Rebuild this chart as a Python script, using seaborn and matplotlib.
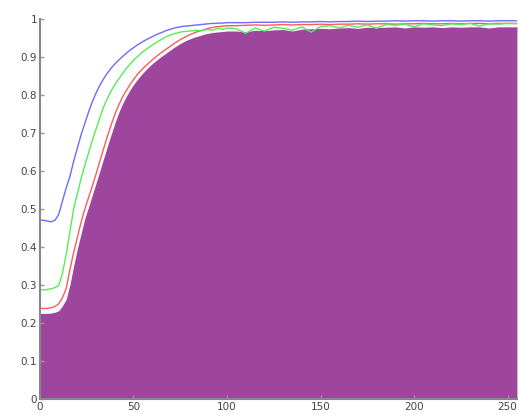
import matplotlib
matplotlib.use("Agg")
import matplotlib.pyplot as plt
import seaborn as sns
import pandas as pd

# x positions (0..100 step 2, then 105..255 step 5)
x_vals = [0, 2, 4, 6, 8, 10, 12, 14, 16, 18, 20, 22, 24, 26, 28, 30, 32, 34, 36, 38,
          40, 42, 44, 46, 48, 50, 52, 54, 56, 58, 60, 62, 64, 66, 68, 70, 72, 74, 76, 78,
          80, 82, 84, 86, 88, 90, 92, 94, 96, 98, 100,
          105, 110, 115, 120, 125, 130, 135, 140, 145, 150, 155, 160, 165, 170, 175, 180,
          185, 190, 195, 200, 205, 210, 215, 220, 225, 230, 235, 240, 245, 250, 255]

blue_vals = [0.470, 0.470, 0.468, 0.466, 0.470, 0.485, 0.520, 0.555, 0.585, 0.625,
             0.660, 0.695, 0.725, 0.755, 0.782, 0.805, 0.825, 0.842, 0.857, 0.870,
             0.881, 0.891, 0.900, 0.909, 0.917, 0.924, 0.931, 0.937, 0.943, 0.948,
             0.953, 0.958, 0.962, 0.966, 0.970, 0.973, 0.976, 0.978, 0.980, 0.981,
             0.982, 0.983, 0.984, 0.985, 0.986, 0.987, 0.988, 0.988, 0.989, 0.989, 0.990,
             0.990, 0.990, 0.991, 0.991, 0.991, 0.992, 0.991, 0.992, 0.992, 0.993,
             0.992, 0.993, 0.993, 0.994, 0.993, 0.994, 0.994, 0.995, 0.994, 0.995,
             0.995, 0.994, 0.995, 0.995, 0.994, 0.995, 0.995, 0.994, 0.995, 0.995, 0.995]

green_vals = [0.287, 0.287, 0.288, 0.290, 0.293, 0.298, 0.330, 0.380, 0.440, 0.500,
              0.540, 0.580, 0.615, 0.648, 0.680, 0.710, 0.740, 0.768, 0.790, 0.810,
              0.826, 0.841, 0.855, 0.868, 0.880, 0.891, 0.900, 0.909, 0.917, 0.924,
              0.931, 0.937, 0.943, 0.949, 0.954, 0.958, 0.961, 0.964, 0.966, 0.967,
              0.968, 0.969, 0.970, 0.968, 0.971, 0.972, 0.970, 0.973, 0.975, 0.972, 0.976,
              0.974, 0.962, 0.976, 0.968, 0.978, 0.975, 0.970, 0.979, 0.965, 0.980,
              0.982, 0.976, 0.983, 0.978, 0.984, 0.975, 0.985, 0.983, 0.986, 0.979,
              0.987, 0.984, 0.982, 0.987, 0.985, 0.988, 0.981, 0.987, 0.986, 0.988, 0.987]

red_vals = [0.238, 0.238, 0.238, 0.240, 0.243, 0.250, 0.266, 0.290, 0.340, 0.385,
            0.425, 0.465, 0.500, 0.530, 0.560, 0.592, 0.625, 0.658, 0.690, 0.720,
            0.748, 0.772, 0.793, 0.810, 0.826, 0.840, 0.853, 0.864, 0.874, 0.883,
            0.892, 0.900, 0.908, 0.915, 0.922, 0.929, 0.936, 0.942, 0.948, 0.953,
            0.958, 0.962, 0.966, 0.969, 0.972, 0.975, 0.977, 0.979, 0.980, 0.981, 0.982,
            0.982, 0.983, 0.984, 0.983, 0.984, 0.985, 0.984, 0.985, 0.985, 0.986,
            0.985, 0.986, 0.986, 0.987, 0.986, 0.987, 0.987, 0.986, 0.987, 0.987,
            0.988, 0.987, 0.987, 0.988, 0.987, 0.988, 0.988, 0.987, 0.988, 0.988, 0.988]

bar_vals = [0.225, 0.225, 0.225, 0.226, 0.228, 0.232, 0.245, 0.262, 0.300, 0.350,
            0.395, 0.435, 0.475, 0.505, 0.537, 0.568, 0.600, 0.632, 0.664, 0.695,
            0.725, 0.752, 0.775, 0.795, 0.812, 0.827, 0.840, 0.852, 0.863, 0.873,
            0.882, 0.890, 0.898, 0.905, 0.912, 0.919, 0.926, 0.932, 0.938, 0.943,
            0.947, 0.951, 0.954, 0.957, 0.960, 0.962, 0.964, 0.965, 0.966, 0.967, 0.968,
            0.968, 0.966, 0.970, 0.969, 0.971, 0.972, 0.968, 0.973, 0.974, 0.975,
            0.974, 0.976, 0.977, 0.975, 0.978, 0.977, 0.978, 0.979, 0.976, 0.979,
            0.978, 0.979, 0.977, 0.979, 0.978, 0.979, 0.979, 0.976, 0.979, 0.979, 0.979]

df = pd.DataFrame({"x": x_vals, "blue": blue_vals, "green": green_vals,
                   "red": red_vals, "bar": bar_vals})

sns.set_style("ticks")
plt.rcParams['font.family'] = ['DejaVu Sans']

fig = plt.figure(figsize=(5.19, 4.19), dpi=100)
ax = fig.add_axes([0.077, 0.048, 0.919, 0.907])

ax.fill_between(df["x"], 0, df["bar"], color="#9e469e", lw=0, zorder=0.5)
sns.lineplot(data=df, x="x", y="red", color="#ff5a5a", lw=1, ax=ax)
sns.lineplot(data=df, x="x", y="green", color="#55ee55", lw=1, ax=ax)
sns.lineplot(data=df, x="x", y="blue", color="#6b6bff", lw=1, ax=ax)

ax.set_xlim(0, 255)
ax.set_ylim(0, 1)
ax.set_xticks([0, 50, 100, 150, 200, 250])
ax.set_yticks([i / 10 for i in range(11)])
ax.set_yticklabels(["0", "0.1", "0.2", "0.3", "0.4", "0.5", "0.6", "0.7", "0.8", "0.9", "1"])
ax.set_xlabel("")
ax.set_ylabel("")
sns.despine(ax=ax)
for s in ["left", "bottom"]:
    ax.spines[s].set_color("#888888")
    ax.spines[s].set_linewidth(1.5)
ax.tick_params(direction="in", length=3, width=1, color="#999999",
               labelcolor="#444444", labelsize=7.5, pad=2)

fig.savefig("out.png", dpi=100)
